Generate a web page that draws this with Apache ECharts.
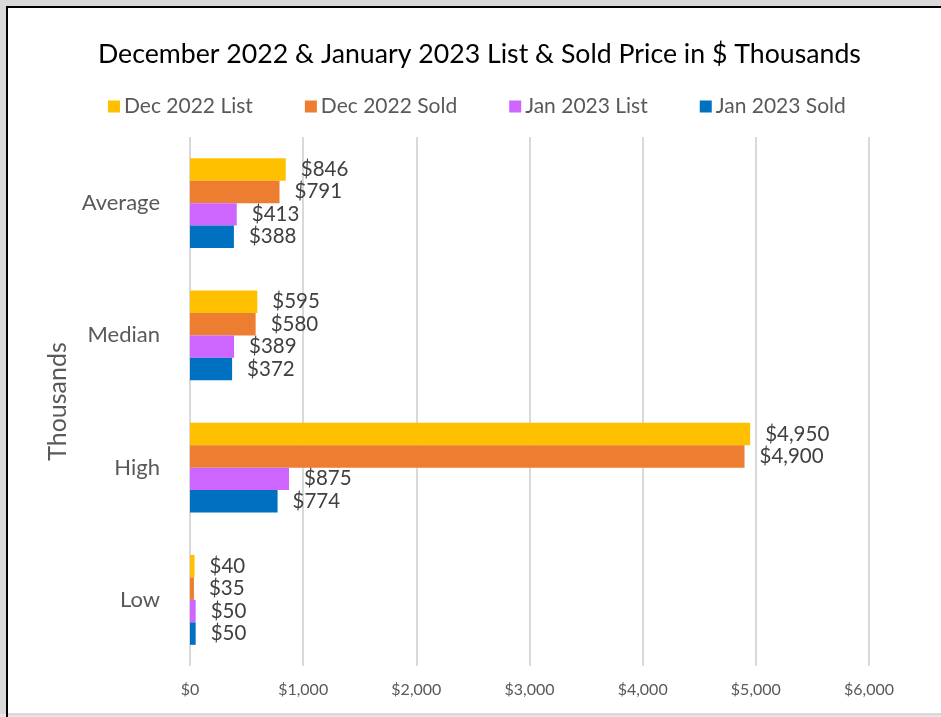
<!DOCTYPE html>
<html>
<head>
<meta charset="utf-8">
<script src="https://cdn.jsdelivr.net/npm/echarts@6/dist/echarts.min.js"></script>
<style>
html,body{margin:0;padding:0;background:#fff;}
#c{width:941px;height:717px;}
</style>
</head>
<body>
<div id="c"></div>
<script>
const categories = ['Average', 'Median', 'High', 'Low'];
const seriesNames = ['Dec 2022 List', 'Dec 2022 Sold', 'Jan 2023 List', 'Jan 2023 Sold'];
const dec2022List = [846, 595, 4950, 40];
const dec2022Sold = [791, 580, 4900, 35];
const jan2023List = [413, 389, 875, 50];
const jan2023Sold = [388, 372, 774, 50];
const xTicks = [0, 1000, 2000, 3000, 4000, 5000, 6000];
const colors = ['#FFC000', '#ED7D31', '#CC66FF', '#0070C0'];

const FONT = 'Lato';
function money(v) {
  return '$' + Math.round(v).toString().replace(/\B(?=(\d{3})+(?!\d))/g, ',');
}
const values = [dec2022List, dec2022Sold, jan2023List, jan2023Sold];

const chart = echarts.init(document.getElementById('c'));
chart.setOption({
  backgroundColor: '#ffffff',
  animation: false,
  textStyle: { fontFamily: FONT },
  title: {
    text: 'December 2022 & January 2023 List & Sold Price in $ Thousands',
    left: 93,
    top: 36,
    textStyle: { fontFamily: FONT, fontSize: 26.7, fontWeight: 'normal', color: '#000000' }
  },
  legend: {
    top: 91,
    left: 103,
    itemWidth: 12,
    itemHeight: 12,
    itemGap: 52,
    icon: 'rect',
    textStyle: { fontFamily: FONT, fontSize: 21, color: '#595959', padding: [0, 0, 0, -1] },
    data: seriesNames
  },
  grid: { left: 190, right: 72, top: 137, bottom: 51, containLabel: false },
  xAxis: {
    type: 'value',
    min: xTicks[0],
    max: xTicks[xTicks.length - 1],
    interval: 1000,
    axisLine: { show: false },
    axisTick: { show: false },
    splitLine: { show: true, lineStyle: { color: '#d9d9d9', width: 2 } },
    axisLabel: { formatter: v => money(v), fontFamily: FONT, fontSize: 16, color: '#595959', margin: 16 }
  },
  yAxis: {
    type: 'category',
    data: categories,
    inverse: true,
    name: 'Thousands',
    nameLocation: 'middle',
    nameGap: 118,
    nameRotate: 90,
    nameTextStyle: { fontFamily: FONT, fontSize: 25, color: '#595959' },
    axisLine: { show: false },
    axisTick: { show: false },
    axisLabel: { fontFamily: FONT, fontSize: 22, color: '#595959', margin: 30 }
  },
  series: seriesNames.map((name, i) => ({
    name: name,
    type: 'bar',
    data: values[i],
    barGap: '0%',
    barCategoryGap: '32%',
    itemStyle: { color: colors[i] },
    label: {
      show: true,
      position: 'right',
      distance: 15,
      formatter: p => money(p.value),
      fontFamily: FONT,
      fontSize: 20.5,
      color: '#404040'
    }
  })),
  graphic: [
    { type: 'rect', shape: { x: 0, y: 0, width: 941, height: 6 }, style: { fill: '#d9d9d9' }, silent: true },
    { type: 'rect', shape: { x: 0, y: 0, width: 6, height: 717 }, style: { fill: '#d9d9d9' }, silent: true },
    { type: 'rect', shape: { x: 0, y: 714, width: 941, height: 3 }, style: { fill: '#e6e6e6' }, silent: true },
    { type: 'line', shape: { x1: 6, y1: 714, x2: 941, y2: 714 }, style: { stroke: '#bfbfbf', lineWidth: 1 }, silent: true },
    { type: 'rect', shape: { x: 6, y: 6, width: 935, height: 2 }, style: { fill: '#000000' }, silent: true },
    { type: 'rect', shape: { x: 6, y: 6, width: 2, height: 711 }, style: { fill: '#000000' }, silent: true }
  ]
});
</script>
</body>
</html>
